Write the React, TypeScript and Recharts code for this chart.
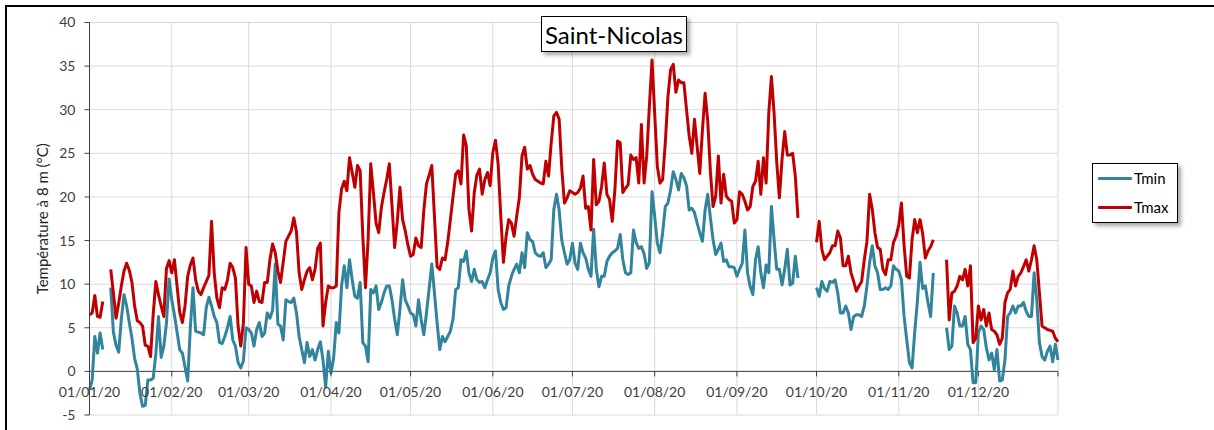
import React from 'react';
import { LineChart, Line, XAxis, YAxis, CartesianGrid, ReferenceLine } from 'recharts';

// ---- Data (daily values 2020, °C) ----
const TMAX_JAN = [6.5, 6.7, 8.7, 6.3, 6.2, 8.0, null, null, 11.7, 9.0, 6.1, 7.8, 9.8, 11.5, 12.4, 11.6, 10.2, 7.5, 5.8, 5.6, 5.2, 3.0, 2.9, 1.7, 6.5, 10.3, 8.8, 7.5, 6.3, 11.8, 12.7];
const TMAX_FEB = [11.3, 12.8, 9.8, 6.8, 5.6, 7.5, 10.9, 12.2, 13.0, 10.5, 9.2, 8.8, 9.6, 10.3, 11.0, 17.2, 11.3, 8.4, 7.3, 9.6, 9.4, 10.5, 12.4, 11.9, 10.7, 5.2, 2.9, 5.5, 14.2];
const TMAX_MAR = [10.0, 9.8, 7.9, 9.2, 8.0, 7.9, 10.2, 10.2, 12.8, 14.6, 13.6, 11.5, 10.2, 12.5, 14.9, 15.5, 16.1, 17.6, 16.0, 11.3, 9.4, 10.5, 11.5, 11.9, 10.5, 11.7, 14.1, 14.7, 5.2, 7.9, 9.8];
const TMAX_APR = [9.6, 9.6, 9.8, 18.2, 20.9, 21.8, 20.7, 24.5, 22.8, 21.1, 23.6, 23.0, 15.5, 9.6, 15.1, 23.8, 20.5, 17.0, 15.9, 18.8, 20.5, 22.0, 23.8, 19.0, 14.2, 17.2, 21.1, 17.4, 16.1, 14.5];
const TMAX_MAY = [13.2, 13.4, 15.3, 14.4, 14.2, 18.5, 21.5, 22.5, 23.6, 17.8, 12.0, 11.7, 13.0, 12.8, 14.8, 17.4, 20.0, 22.6, 23.0, 21.5, 27.1, 25.9, 18.6, 16.1, 20.5, 22.5, 23.2, 20.3, 22.0, 22.8, 21.3];
const TMAX_JUN = [25.1, 26.5, 23.8, 17.8, 12.5, 15.5, 17.4, 17.0, 15.5, 17.8, 19.9, 24.7, 25.7, 23.2, 23.6, 22.6, 22.0, 21.8, 21.6, 21.5, 24.1, 22.4, 26.2, 29.3, 29.7, 28.9, 23.2, 19.3, 19.9, 20.7];
const TMAX_JUL = [20.5, 20.3, 20.5, 21.0, 22.4, 18.7, 18.9, 16.2, 24.3, 19.1, 19.5, 21.2, 23.9, 20.3, 19.7, 17.2, 20.8, 26.4, 26.2, 20.5, 21.0, 21.4, 24.8, 24.3, 24.5, 21.6, 28.3, 21.6, 24.7, 30.4, 35.7];
const TMAX_AUG = [29.6, 23.5, 21.6, 22.0, 26.2, 31.5, 34.6, 35.2, 32.0, 33.4, 33.1, 33.1, 30.0, 27.0, 25.0, 28.9, 25.8, 22.7, 27.7, 31.9, 28.7, 22.9, 18.9, 20.1, 24.7, 19.3, 22.6, 20.1, 19.7, 19.5, 17.0];
const TMAX_SEP = [17.4, 20.6, 20.3, 19.5, 18.5, 18.9, 21.2, 21.8, 24.1, 20.3, 24.5, 21.6, 29.6, 33.8, 29.6, 24.0, 19.9, 24.3, 27.5, 24.8, 24.8, 25.0, 22.4, 17.6, null, null, null, null, null, null];
const TMAX_OCT = [14.8, 17.2, 14.0, 12.8, 13.2, 13.6, 14.4, 14.4, 16.1, 15.3, 12.1, 12.1, 13.2, 11.3, 10.3, 9.2, 9.8, 10.3, 12.8, 14.9, 20.3, 18.6, 15.9, 14.2, 14.0, 11.7, 11.1, 12.8, 12.8, 14.8, 15.5];
const TMAX_NOV = [16.8, 19.3, 14.4, 10.9, 10.7, 15.1, 17.4, 15.9, 17.4, 15.8, 13.0, 13.8, 14.3, 15.1, null, null, null, null, 12.8, 5.9, 9.0, 9.2, 9.8, 10.9, 10.5, 11.7, 9.8, 12.1, 3.3, 3.8];
const TMAX_DEC = [7.5, 5.9, 7.1, 5.2, 6.7, 4.8, 4.6, 4.2, 3.1, 3.8, 7.9, 9.0, 9.4, 11.5, 9.8, 10.9, 11.3, 12.0, 12.8, 11.5, 12.8, 14.4, 12.8, 9.0, 5.2, 5.0, 4.8, 4.7, 4.6, 3.8, 3.4];

const TMIN_JAN = [-2.1, -1.0, 4.0, 2.1, 4.4, 2.5, null, null, 9.6, 4.5, 3.0, 2.2, 6.0, 8.8, 7.5, 5.6, 3.8, 1.5, 0.3, -2.5, -4.0, -3.9, -1.0, -1.0, -0.8, 2.0, 6.3, 1.6, 2.9, 5.5, 10.6];
const TMIN_FEB = [8.2, 6.5, 4.5, 2.5, 2.1, 0.5, -1.1, 5.0, 9.6, 4.6, 4.5, 4.4, 4.2, 7.3, 8.5, 7.5, 6.3, 5.6, 3.3, 3.2, 4.0, 5.0, 6.3, 3.6, 2.9, 1.0, 0.4, 1.2, 5.0];
const TMIN_MAR = [4.8, 4.4, 2.9, 4.8, 5.6, 4.0, 4.4, 6.7, 6.1, 7.0, 12.3, 5.4, 5.2, 3.6, 8.2, 8.0, 7.9, 8.4, 6.7, 4.0, 2.5, 1.0, 3.3, 1.7, 2.5, 1.3, 2.5, 3.4, 1.3, -1.8, 2.3];
const TMIN_APR = [-0.2, 1.5, 5.6, 4.4, 9.8, 12.1, 9.6, 12.8, 10.5, 8.6, 8.4, 10.2, 3.3, 2.9, 1.1, 9.4, 9.0, 9.8, 7.1, 7.9, 9.0, 9.8, 9.8, 8.2, 6.0, 4.2, 7.1, 10.5, 8.2, 7.5];
const TMIN_MAY = [6.7, 6.5, 5.2, 8.2, 5.9, 4.2, 6.7, 9.5, 12.3, 9.0, 5.6, 2.5, 4.0, 3.4, 4.0, 4.6, 6.0, 9.4, 9.6, 12.8, 12.6, 13.8, 11.3, 10.3, 11.7, 10.5, 10.2, 10.3, 9.6, 10.5, 11.3];
const TMIN_JUN = [13.0, 13.8, 9.4, 7.9, 7.1, 7.3, 9.8, 10.9, 11.7, 12.3, 11.3, 13.6, 11.9, 15.9, 15.1, 14.9, 13.6, 13.3, 13.2, 13.6, 11.9, 12.3, 12.8, 18.6, 20.3, 18.5, 15.0, 13.6, 12.3, 12.8];
const TMIN_JUL = [14.7, 12.4, 11.7, 14.7, 13.6, 13.0, 11.7, 10.9, 16.3, 11.7, 9.7, 10.9, 10.9, 12.6, 13.2, 13.6, 13.8, 14.1, 15.7, 12.8, 11.3, 11.1, 11.3, 16.2, 14.8, 14.1, 14.3, 13.5, 11.8, 12.5, 20.6];
const TMIN_AUG = [17.8, 14.7, 13.6, 15.9, 18.9, 19.3, 20.8, 22.9, 22.0, 20.8, 22.7, 22.2, 21.3, 18.5, 18.7, 18.2, 17.0, 15.9, 14.9, 18.5, 20.3, 17.6, 15.1, 13.4, 14.0, 14.7, 12.6, 12.8, 12.0, 12.0, 11.9];
const TMIN_SEP = [10.9, 11.7, 12.4, 16.2, 11.3, 9.7, 8.8, 12.8, 14.3, 11.3, 9.6, 12.2, 11.3, 18.9, 15.1, 11.7, 11.7, 9.9, 11.7, 14.0, 9.9, 10.1, 13.2, 10.7, null, null, null, null, null, null];
const TMIN_OCT = [9.6, 8.6, 10.3, 9.5, 9.2, 10.3, 10.2, 10.5, 9.0, 6.7, 6.7, 7.5, 6.7, 4.8, 6.3, 6.5, 6.5, 6.3, 7.5, 9.8, 12.5, 14.4, 12.1, 11.3, 9.4, 9.4, 9.6, 9.4, 9.8, 12.1, 11.7];
const TMIN_NOV = [11.5, 10.5, 6.3, 3.6, 1.0, 0.4, 4.5, 8.0, 12.5, 9.5, 9.8, 7.9, 6.3, 11.3, null, null, null, null, 5.0, 2.5, 2.9, 7.5, 6.7, 5.2, 5.2, 6.3, 3.1, 2.5, -1.3, -1.3];
const TMIN_DEC = [4.4, 5.2, 4.8, 2.7, 1.3, 2.1, 0.2, 2.5, -1.1, -1.0, 1.3, 6.3, 6.7, 7.5, 6.7, 7.5, 7.5, 7.9, 6.9, 6.3, 6.3, 11.3, 8.2, 3.3, 1.7, 1.3, 2.3, 2.9, 1.1, 3.1, 1.3];

const MONTH_STARTS = [0, 31, 60, 91, 121, 152, 182, 213, 244, 274, 305, 335];
const MONTH_LABELS = ['01/01/20', '01/02/20', '01/03/20', '01/04/20', '01/05/20', '01/06/20', '01/07/20', '01/08/20', '01/09/20', '01/10/20', '01/11/20', '01/12/20'];
const LAST_DAY = 365;
const Y_TICKS = [-5, 0, 5, 10, 15, 20, 25, 30, 35, 40];

const TMAX = [TMAX_JAN, TMAX_FEB, TMAX_MAR, TMAX_APR, TMAX_MAY, TMAX_JUN, TMAX_JUL, TMAX_AUG, TMAX_SEP, TMAX_OCT, TMAX_NOV, TMAX_DEC].flat();
const TMIN = [TMIN_JAN, TMIN_FEB, TMIN_MAR, TMIN_APR, TMIN_MAY, TMIN_JUN, TMIN_JUL, TMIN_AUG, TMIN_SEP, TMIN_OCT, TMIN_NOV, TMIN_DEC].flat();

const data = TMAX.map((v, i) => ({ day: i, tmin: TMIN[i], tmax: v }));

const SERIES = [
  { key: 'tmin', name: 'Tmin', color: '#31849B' },
  { key: 'tmax', name: 'Tmax', color: '#C00000' },
];

// ---- Layout ----
const W = 1214;
const H = 430;
const PLOT_LEFT = 89.5;
const PLOT_RIGHT = 1058;
const PLOT_TOP = 22.5;
const PLOT_BOTTOM = 415;
const Y_MIN = -5;
const Y_MAX = 40;
const ZERO_Y = PLOT_TOP + ((Y_MAX - 0) / (Y_MAX - Y_MIN)) * (PLOT_BOTTOM - PLOT_TOP);
const FONT = 'Lato, "Open Sans", sans-serif';
const AXIS_COLOR = '#404040';

const labelFor = (v: number) => {
  const i = MONTH_STARTS.indexOf(v);
  return i >= 0 ? MONTH_LABELS[i] : '';
};

const XTick = (props: any) => {
  const { x, payload } = props;
  const label = labelFor(payload.value);
  return (
    <g>
      <line x1={x} x2={x} y1={ZERO_Y} y2={ZERO_Y + 5} stroke={AXIS_COLOR} strokeWidth={1} />
      {label ? (
        <text x={x} y={ZERO_Y + 26} textAnchor="middle" fontSize={14} fill={AXIS_COLOR} fontFamily={FONT}>
          {label}
        </text>
      ) : null}
    </g>
  );
};

export default function App() {
  return (
    <div style={{ position: 'absolute', left: 0, top: 0, width: W, height: H, background: '#fff', overflow: 'hidden', fontFamily: FONT }}>
      <div style={{ position: 'absolute', left: 5, top: 5, width: W, height: H, borderTop: '2px solid #000', borderLeft: '2px solid #000', boxSizing: 'border-box' }} />
      <div style={{ position: 'absolute', left: 0, top: 0 }}>
        <LineChart
          width={W}
          height={H}
          data={data}
          margin={{ top: PLOT_TOP, right: W - PLOT_RIGHT, bottom: 0, left: 0 }}
        >
          <CartesianGrid stroke="#d9d9d9" strokeWidth={1} />
          <XAxis
            dataKey="day"
            type="number"
            domain={[0, LAST_DAY]}
            ticks={[...MONTH_STARTS, LAST_DAY]}
            interval={0}
            height={H - PLOT_BOTTOM}
            axisLine={false}
            tickLine={false}
            tick={<XTick />}
          />
          <YAxis
            type="number"
            domain={[Y_MIN, Y_MAX]}
            ticks={Y_TICKS}
            interval={0}
            width={PLOT_LEFT}
            axisLine={{ stroke: AXIS_COLOR, strokeWidth: 1 }}
            tickLine={{ stroke: AXIS_COLOR, strokeWidth: 1 }}
            tickSize={5}
            tickMargin={9}
            tick={{ fontSize: 14, fill: AXIS_COLOR, fontFamily: FONT }}
            label={{ value: 'Température à 8 m (°C)', angle: -90, position: 'center', dx: -2, fontSize: 15, fill: '#262626', fontFamily: FONT }}
          />
          <ReferenceLine y={0} stroke={AXIS_COLOR} strokeWidth={1} ifOverflow="extendDomain" />
          {SERIES.map((s) => (
            <Line
              key={s.key}
              type="linear"
              dataKey={s.key}
              name={s.name}
              stroke={s.color}
              strokeWidth={3}
              dot={false}
              activeDot={false}
              connectNulls={false}
              isAnimationActive={false}
              strokeLinejoin="round"
            />
          ))}
        </LineChart>
      </div>
      <div
        style={{
          position: 'absolute', left: 541, top: 16, width: 146, height: 36,
          border: '1px solid #000', background: '#fff', boxSizing: 'border-box',
          boxShadow: '3px 3px 4px rgba(0,0,0,0.35)',
          display: 'flex', alignItems: 'center', justifyContent: 'center',
          fontSize: 24, color: '#000', fontFamily: FONT,
        }}
      >
        Saint-Nicolas
      </div>
      <div
        style={{
          position: 'absolute', left: 1092, top: 163, width: 86, height: 60,
          border: '1px solid #000', background: '#fff', boxSizing: 'border-box',
          boxShadow: '3px 3px 4px rgba(0,0,0,0.35)',
        }}
      >
        {SERIES.map((s, i) => (
          <div key={s.key} style={{ position: 'absolute', left: 5, top: 5 + i * 29, height: 18, display: 'flex', alignItems: 'center' }}>
            <div style={{ width: 34, height: 3, background: s.color, borderRadius: 1 }} />
            <span style={{ marginLeft: 2, fontSize: 15, color: '#000', fontFamily: FONT }}>{s.name}</span>
          </div>
        ))}
      </div>
    </div>
  );
}
